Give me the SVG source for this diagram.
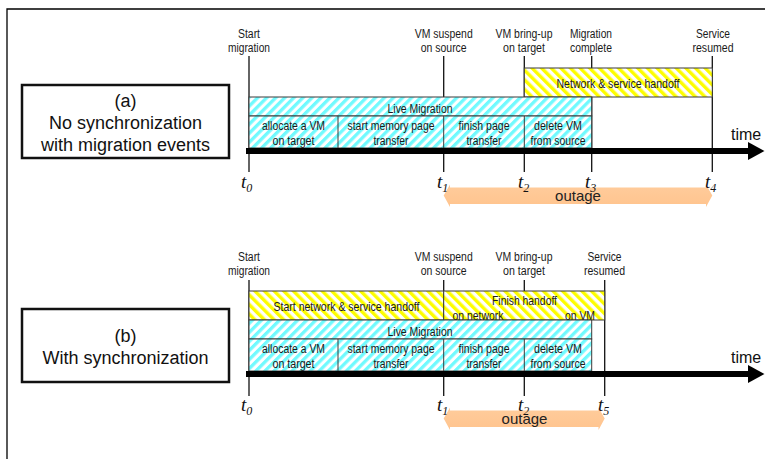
<svg xmlns="http://www.w3.org/2000/svg" width="765" height="459" viewBox="0 0 765 459">
  <defs>
    <!-- diagonal hatch fills -->
    <pattern id="hatchCyan" patternUnits="userSpaceOnUse" width="6.4" height="10" patternTransform="rotate(45)">
      <rect width="6.4" height="10" fill="#ffffff"/>
      <rect width="3.3" height="10" fill="#70fafe"/>
    </pattern>
    <pattern id="hatchYellow" patternUnits="userSpaceOnUse" width="6.8" height="10" patternTransform="rotate(-45)">
      <rect width="6.8" height="10" fill="#ffffff"/>
      <rect width="3.4" height="10" fill="#fdfd00"/>
    </pattern>
    <linearGradient id="outageFill" x1="0" y1="0" x2="0" y2="1">
      <stop offset="0" stop-color="#ffcc9c"/>
      <stop offset="1" stop-color="#ffc48e"/>
    </linearGradient>
  </defs>
  <style>
    .lbl { font-family: "Liberation Sans", Arial, sans-serif; font-size: 12px; fill: #1a1a1a; text-anchor: middle; }
    .big { font-family: "Liberation Sans", Arial, sans-serif; font-size: 18px; fill: #111; text-anchor: middle; }
    .time { font-family: "Liberation Sans", Arial, sans-serif; font-size: 16px; fill: #111; }
    .out { font-family: "Liberation Sans", Arial, sans-serif; font-size: 15px; fill: #222; text-anchor: middle; }
    .tl { font-family: "Liberation Serif", "Times New Roman", serif; font-style: italic; font-size: 19px; fill: #111; }
    .sub { font-size: 12px; }
    .tick { stroke: #111; stroke-width: 1.3; fill: none; }
    .cyan { fill: url(#hatchCyan); stroke: #3a3a3a; stroke-width: 1; }
    .yel { fill: url(#hatchYellow); stroke: #3a3a3a; stroke-width: 1; }
    .div { stroke: #3a3a3a; stroke-width: 1; }
    .bar { fill: #000; }
    .caption { fill: #fff; stroke: #111; stroke-width: 2.5; }
    .outage { fill: url(#outageFill); }
  </style>

  <rect width="765" height="459" fill="#ffffff"/>
  <!-- outer frame -->
  <path d="M7,459 V9 H765" fill="none" stroke="#000" stroke-width="1.3"/>

  <!-- ===================== (a) no synchronization ===================== -->
  <g id="caption-a">
    <rect class="caption" x="22" y="85" width="207" height="73"/>
    <text class="big" x="125.5" y="107">(a)</text>
    <text class="big" x="125.5" y="129">No synchronization</text>
    <text class="big" x="125.5" y="151">with migration events</text>
  </g>

  <g id="ticks-a">
    <line class="tick" x1="249" y1="56" x2="249" y2="172"/>
    <line class="tick" x1="443.7" y1="56" x2="443.7" y2="172"/>
    <line class="tick" x1="524.3" y1="56" x2="524.3" y2="172"/>
    <line class="tick" x1="591.7" y1="56" x2="591.7" y2="172"/>
    <line class="tick" x1="712.3" y1="56" x2="712.3" y2="172"/>
  </g>

  <g id="handoff-a">
    <rect class="yel" x="524.3" y="68" width="188" height="29"/>
    <text class="lbl" x="618" y="88" textLength="123" lengthAdjust="spacingAndGlyphs">Network &amp; service handoff</text>
  </g>

  <g id="live-migration-a">
    <rect class="cyan" x="249" y="97" width="342.7" height="19"/>
    <text class="lbl" x="420" y="113" textLength="65" lengthAdjust="spacingAndGlyphs">Live Migration</text>
  </g>

  <g id="tasks-a">
    <rect class="cyan" x="249" y="116" width="342.7" height="32"/>
    <line class="div" x1="338" y1="116" x2="338" y2="148"/>
    <line class="div" x1="443.7" y1="116" x2="443.7" y2="148"/>
    <line class="div" x1="524.3" y1="116" x2="524.3" y2="148"/>
    <text class="lbl" x="293.5" y="130" textLength="63" lengthAdjust="spacingAndGlyphs">allocate a VM</text>
    <text class="lbl" x="293.5" y="145" textLength="42" lengthAdjust="spacingAndGlyphs">on target</text>
    <text class="lbl" x="391" y="130" textLength="87" lengthAdjust="spacingAndGlyphs">start memory page</text>
    <text class="lbl" x="391" y="145" textLength="35" lengthAdjust="spacingAndGlyphs">transfer</text>
    <text class="lbl" x="484" y="130" textLength="51" lengthAdjust="spacingAndGlyphs">finish page</text>
    <text class="lbl" x="484" y="145" textLength="35" lengthAdjust="spacingAndGlyphs">transfer</text>
    <text class="lbl" x="558" y="130" textLength="48" lengthAdjust="spacingAndGlyphs">delete VM</text>
    <text class="lbl" x="558" y="145" textLength="55" lengthAdjust="spacingAndGlyphs">from source</text>
  </g>

  <g id="timeline-a">
    <rect class="bar" x="246" y="148" width="504" height="6"/>
    <polygon class="bar" points="748,142 764.5,151 748,160"/>
    <text class="time" x="731" y="139.5">time</text>
  </g>

  <g id="events-a">
    <text class="lbl" x="249" y="38" textLength="22" lengthAdjust="spacingAndGlyphs">Start</text>
    <text class="lbl" x="249" y="52" textLength="42" lengthAdjust="spacingAndGlyphs">migration</text>
    <text class="lbl" x="443.7" y="38" textLength="58" lengthAdjust="spacingAndGlyphs">VM suspend</text>
    <text class="lbl" x="443.7" y="52" textLength="46" lengthAdjust="spacingAndGlyphs">on source</text>
    <text class="lbl" x="524" y="38" textLength="57" lengthAdjust="spacingAndGlyphs">VM bring-up</text>
    <text class="lbl" x="524" y="52" textLength="42" lengthAdjust="spacingAndGlyphs">on target</text>
    <text class="lbl" x="591" y="38" textLength="42" lengthAdjust="spacingAndGlyphs">Migration</text>
    <text class="lbl" x="591" y="52" textLength="42" lengthAdjust="spacingAndGlyphs">complete</text>
    <text class="lbl" x="713" y="38" textLength="34" lengthAdjust="spacingAndGlyphs">Service</text>
    <text class="lbl" x="713" y="52" textLength="41" lengthAdjust="spacingAndGlyphs">resumed</text>
  </g>

  <g id="outage-a">
    <polygon class="outage" points="443.7,195.5 450,184.5 450,187.5 706,187.5 706,184.5 712.3,195.5 706,207 706,204 450,204 450,207"/>
    <text class="out" x="578" y="201">outage</text>
  </g>

  <g id="time-marks-a">
    <text class="tl" x="241" y="188">t<tspan class="sub" dy="4">0</tspan></text>
    <text class="tl" x="437" y="188">t<tspan class="sub" dy="4">1</tspan></text>
    <text class="tl" x="518" y="188">t<tspan class="sub" dy="4">2</tspan></text>
    <text class="tl" x="585" y="188">t<tspan class="sub" dy="4">3</tspan></text>
    <text class="tl" x="705" y="188">t<tspan class="sub" dy="4">4</tspan></text>
  </g>

  <!-- ===================== (b) with synchronization ===================== -->
  <g id="caption-b">
    <rect class="caption" x="22" y="309" width="207" height="73"/>
    <text class="big" x="125.5" y="342">(b)</text>
    <text class="big" x="125.5" y="364">With synchronization</text>
  </g>

  <g id="ticks-b">
    <line class="tick" x1="249" y1="280" x2="249" y2="396"/>
    <line class="tick" x1="443.7" y1="280" x2="443.7" y2="396"/>
    <line class="tick" x1="524.3" y1="280" x2="524.3" y2="396"/>
    <line class="tick" x1="604.7" y1="280" x2="604.7" y2="396"/>
  </g>

  <g id="handoff-start-b">
    <rect class="yel" x="249" y="291" width="194.7" height="29"/>
    <text class="lbl" x="346.5" y="310.5" textLength="146" lengthAdjust="spacingAndGlyphs">Start network &amp; service handoff</text>
  </g>

  <g id="handoff-finish-b">
    <rect class="yel" x="443.7" y="291" width="161" height="29"/>
    <text class="lbl" x="524.5" y="304.5" textLength="65" lengthAdjust="spacingAndGlyphs">Finish handoff</text>
    <text class="lbl" x="478" y="319.5" textLength="51" lengthAdjust="spacingAndGlyphs">on network</text>
    <text class="lbl" x="580" y="319.5" textLength="30" lengthAdjust="spacingAndGlyphs">on VM</text>
  </g>

  <g id="live-migration-b">
    <rect class="cyan" x="249" y="320" width="342.7" height="19"/>
    <text class="lbl" x="420" y="336" textLength="65" lengthAdjust="spacingAndGlyphs">Live Migration</text>
  </g>

  <g id="tasks-b">
    <rect class="cyan" x="249" y="339" width="342.7" height="32"/>
    <line class="div" x1="338" y1="339" x2="338" y2="371"/>
    <line class="div" x1="443.7" y1="339" x2="443.7" y2="371"/>
    <line class="div" x1="524.3" y1="339" x2="524.3" y2="371"/>
    <text class="lbl" x="293.5" y="353" textLength="63" lengthAdjust="spacingAndGlyphs">allocate a VM</text>
    <text class="lbl" x="293.5" y="368" textLength="42" lengthAdjust="spacingAndGlyphs">on target</text>
    <text class="lbl" x="391" y="353" textLength="87" lengthAdjust="spacingAndGlyphs">start memory page</text>
    <text class="lbl" x="391" y="368" textLength="35" lengthAdjust="spacingAndGlyphs">transfer</text>
    <text class="lbl" x="484" y="353" textLength="51" lengthAdjust="spacingAndGlyphs">finish page</text>
    <text class="lbl" x="484" y="368" textLength="35" lengthAdjust="spacingAndGlyphs">transfer</text>
    <text class="lbl" x="558" y="353" textLength="48" lengthAdjust="spacingAndGlyphs">delete VM</text>
    <text class="lbl" x="558" y="368" textLength="55" lengthAdjust="spacingAndGlyphs">from source</text>
  </g>

  <g id="timeline-b">
    <rect class="bar" x="246" y="371" width="504" height="6"/>
    <polygon class="bar" points="748,365 764.5,374 748,383"/>
    <text class="time" x="731" y="362.5">time</text>
  </g>

  <g id="events-b">
    <text class="lbl" x="249" y="261" textLength="22" lengthAdjust="spacingAndGlyphs">Start</text>
    <text class="lbl" x="249" y="275" textLength="42" lengthAdjust="spacingAndGlyphs">migration</text>
    <text class="lbl" x="443.7" y="261" textLength="58" lengthAdjust="spacingAndGlyphs">VM suspend</text>
    <text class="lbl" x="443.7" y="275" textLength="46" lengthAdjust="spacingAndGlyphs">on source</text>
    <text class="lbl" x="524" y="261" textLength="57" lengthAdjust="spacingAndGlyphs">VM bring-up</text>
    <text class="lbl" x="524" y="275" textLength="42" lengthAdjust="spacingAndGlyphs">on target</text>
    <text class="lbl" x="604.5" y="261" textLength="34" lengthAdjust="spacingAndGlyphs">Service</text>
    <text class="lbl" x="604.5" y="275" textLength="41" lengthAdjust="spacingAndGlyphs">resumed</text>
  </g>

  <g id="outage-b">
    <polygon class="outage" points="443.7,418.5 450,407.5 450,410.5 598.5,410.5 598.5,407.5 604.7,418.5 598.5,430 598.5,427 450,427 450,430"/>
    <text class="out" x="524.5" y="424">outage</text>
  </g>

  <g id="time-marks-b">
    <text class="tl" x="241" y="411">t<tspan class="sub" dy="4">0</tspan></text>
    <text class="tl" x="437" y="411">t<tspan class="sub" dy="4">1</tspan></text>
    <text class="tl" x="518" y="411">t<tspan class="sub" dy="4">2</tspan></text>
    <text class="tl" x="598" y="411">t<tspan class="sub" dy="4">5</tspan></text>
  </g>
</svg>
